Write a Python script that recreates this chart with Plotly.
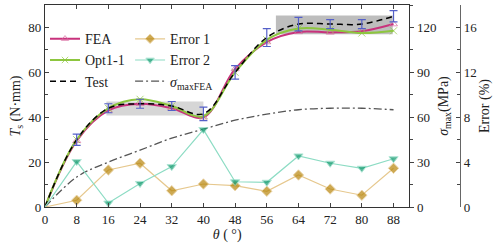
import plotly.graph_objects as go

theta = [0, 8, 16, 24, 32, 40, 48, 56, 64, 72, 80, 88]
fea = [0, 29.5, 43.0, 46.0, 44.0, 40.0, 61.5, 73.5, 78.0, 77.8, 78.3, 81.5]
opt = [0, 30.0, 44.0, 48.0, 45.0, 40.5, 60.0, 74.5, 79.5, 79.0, 77.5, 78.5]
test = [0, 30.0, 44.0, 46.0, 45.0, 41.5, 60.0, 75.5, 81.5, 81.5, 81.5, 85.0]
test_err = [0, 2.5, 2.0, 2.0, 2.0, 3.0, 3.0, 4.0, 3.0, 2.0, 2.0, 2.5]
sigma = [0, 20, 30, 38, 46, 52, 58, 62, 65, 66, 66, 65]
err1 = [0, 0.6, 3.3, 3.9, 1.45, 2.05, 1.9, 1.4, 2.85, 1.6, 1.05, 3.45]
err2 = [0, 4.05, 0.35, 2.1, 3.6, 6.9, 2.25, 2.2, 4.55, 3.9, 3.45, 4.3]

FONT = "Liberation Serif"
msz = [0] + [7] * (len(theta) - 1)
msz2 = [0] + [8] * (len(theta) - 1)

fig = go.Figure()
fig.add_trace(go.Scatter(x=theta, y=fea, name="FEA", mode="lines+markers",
                         line=dict(color="#c8327c", width=2, shape="spline", smoothing=1),
                         marker=dict(symbol="triangle-up-open", size=msz, color="#d86aa0", line=dict(width=1)),
                         legend="legend"))
fig.add_trace(go.Scatter(x=theta, y=opt, name="Opt1-1", mode="lines+markers",
                         line=dict(color="#8dc63f", width=2, shape="spline", smoothing=1),
                         marker=dict(symbol="x-thin-open", size=msz, color="#8dc63f", line=dict(width=1, color="#8dc63f")),
                         legend="legend"))
fig.add_trace(go.Scatter(x=theta, y=test, name="Test", mode="lines",
                         line=dict(color="black", width=1.5, dash="6px,4px", shape="spline", smoothing=1),
                         legend="legend"))
fig.add_trace(go.Scatter(x=theta[1:], y=test[1:], mode="markers", showlegend=False,
                         marker=dict(size=1, color="rgba(0,0,0,0)"),
                         error_y=dict(type="data", array=test_err[1:], color="#5560c8", thickness=1.2, width=4)))
fig.add_trace(go.Scatter(x=theta, y=err1, name="Error 1", mode="lines+markers", yaxis="y3",
                         line=dict(color="#e6c88e", width=1.2),
                         marker=dict(symbol="diamond", size=msz2, color="#b8860b"),
                         legend="legend2"))
fig.add_trace(go.Scatter(x=theta, y=err2, name="Error 2", mode="lines+markers", yaxis="y3",
                         line=dict(color="#8ddcc4", width=1.2),
                         marker=dict(symbol="triangle-down", size=msz2, color="#129a6e"),
                         legend="legend2"))
fig.add_trace(go.Scatter(x=theta, y=sigma, name="<i>σ</i><sub>maxFEA</sub>", mode="lines", yaxis="y2",
                         line=dict(color="#555555", width=1.3, dash="8px,3px,2px,3px", shape="spline", smoothing=1),
                         legend="legend2"))

fig.add_shape(type="rect", x0=15.5, x1=40, y0=40.8, y1=47.0, xref="x", yref="y",
              fillcolor="#d6d6d6", line=dict(width=0), layer="below")
fig.add_shape(type="rect", x0=58.3, x1=87.8, y0=77.0, y1=85.3, xref="x", yref="y",
              fillcolor="#bdbdbd", line=dict(width=0), layer="below")

axcol = "#333333"
tickf = dict(family=FONT, size=13, color="#222")
fig.update_layout(
    width=500, height=247,
    margin=dict(l=45, r=40, t=5, b=40),
    paper_bgcolor="white", plot_bgcolor="white",
    font=dict(family=FONT, size=13, color="#222"),
    xaxis=dict(domain=[0, 0.878], range=[0, 92], tickvals=theta, ticks="inside", ticklen=4,
               showline=True, linecolor=axcol, linewidth=1.2, mirror="ticks", showgrid=False,
               zeroline=False, tickfont=tickf, automargin=False,
               title=dict(text="<i>θ</i> ( °)", font=dict(family=FONT, size=14), standoff=2)),
    yaxis=dict(range=[0, 90], dtick=20, ticks="inside", ticklen=4,
               minor=dict(dtick=10, ticks="inside", ticklen=2.5),
               showline=True, linecolor=axcol, linewidth=1.2, showgrid=False, zeroline=False,
               tickfont=tickf, automargin=False,
               title=dict(text="<i>T</i><sub>s</sub> (N·mm)", font=dict(family=FONT, size=14), standoff=4)),
    yaxis2=dict(range=[0, 135], dtick=30, overlaying="y", side="right", anchor="x",
                ticks="outside", ticklen=4, minor=dict(dtick=15, ticks="outside", ticklen=2.5),
                showline=True, linecolor=axcol, linewidth=1.2, showgrid=False, zeroline=False,
                tickfont=tickf, automargin=False,
                title=dict(text="<i>σ</i><sub>max</sub>(MPa)", font=dict(family=FONT, size=14), standoff=2)),
    yaxis3=dict(range=[0, 18], dtick=4, overlaying="y", side="right", anchor="free", position=1.0,
                ticks="inside", ticklen=4, minor=dict(dtick=2, ticks="inside", ticklen=2.5),
                showline=True, linecolor="#666666", linewidth=1.2, showgrid=False, zeroline=False,
                tickfont=tickf, automargin=False,
                title=dict(text="Error (%)", font=dict(family=FONT, size=14), standoff=0)),
    legend=dict(x=0.0, y=0.91, xanchor="left", yanchor="top", bgcolor="rgba(0,0,0,0)",
                font=dict(family=FONT, size=14), tracegroupgap=0, itemwidth=30),
    legend2=dict(x=0.205, y=0.91, xanchor="left", yanchor="top", bgcolor="rgba(0,0,0,0)",
                 font=dict(family=FONT, size=14), tracegroupgap=0, itemwidth=30),
)

fig.write_html("out.html", config={"displayModeBar": False},
               post_script="document.body.style.margin='0';document.body.style.padding='0';")
